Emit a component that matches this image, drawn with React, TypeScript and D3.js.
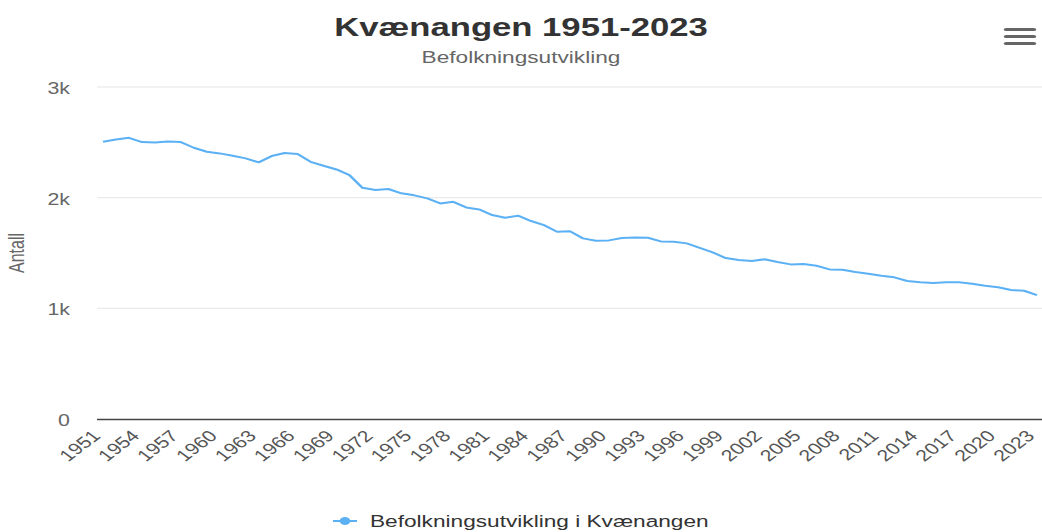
import React from "react";
import * as d3 from "d3";

const years: number[] = [
  1951, 1952, 1953, 1954, 1955, 1956, 1957, 1958, 1959, 1960,
  1961, 1962, 1963, 1964, 1965, 1966, 1967, 1968, 1969, 1970,
  1971, 1972, 1973, 1974, 1975, 1976, 1977, 1978, 1979, 1980,
  1981, 1982, 1983, 1984, 1985, 1986, 1987, 1988, 1989, 1990,
  1991, 1992, 1993, 1994, 1995, 1996, 1997, 1998, 1999, 2000,
  2001, 2002, 2003, 2004, 2005, 2006, 2007, 2008, 2009, 2010,
  2011, 2012, 2013, 2014, 2015, 2016, 2017, 2018, 2019, 2020,
  2021, 2022, 2023,
];

const population: number[] = [
  2505, 2526, 2541, 2502, 2499, 2508, 2502, 2451, 2415, 2400,
  2379, 2355, 2319, 2376, 2403, 2394, 2324, 2288, 2255, 2204,
  2089, 2069, 2078, 2039, 2021, 1994, 1948, 1963, 1912, 1894,
  1843, 1818, 1837, 1789, 1752, 1692, 1696, 1632, 1611, 1614,
  1635, 1641, 1638, 1605, 1602, 1587, 1547, 1506, 1454, 1436,
  1427, 1443, 1418, 1397, 1401, 1385, 1352, 1349, 1328, 1313,
  1295, 1280, 1247, 1235, 1229, 1235, 1235, 1222, 1204, 1190,
  1165, 1159, 1120,
];

const xTickYears: number[] = [
  1951, 1954, 1957, 1960, 1963, 1966, 1969, 1972, 1975, 1978, 1981, 1984, 1987,
  1990, 1993, 1996, 1999, 2002, 2005, 2008, 2011, 2014, 2017, 2020, 2023,
];
const yTicks: number[] = [0, 1000, 2000, 3000];
const yTickLabels: string[] = ["0", "1k", "2k", "3k"];

const title = "Kvænangen 1951-2023";
const subtitle = "Befolkningsutvikling";
const yTitle = "Antall";
const seriesName = "Befolkningsutvikling i Kvænangen";

const W = 1042;
const H = 532;
const S = 4 / 3; // horizontal stretch of the picture
const VW = W / S;
const FONT = "'Liberation Sans', Arial, Helvetica, sans-serif";
const COLOR = "#5cb1f5";

export default function App() {
  const x = d3.scaleLinear().domain([1951, 2023]).range([103 / S, 1037 / S]);
  const y = d3.scaleLinear().domain([0, 3000]).range([419, 87]);
  const plotLeft = 97 / S;
  const plotRight = VW;

  const line = d3
    .line<number>()
    .x((_, i) => x(years[i]))
    .y((d) => y(d));

  return (
    <div style={{ position: "absolute", left: 0, top: 0, width: W, height: H }}>
      <svg
        width={W}
        height={H}
        viewBox={`0 0 ${VW} ${H}`}
        preserveAspectRatio="none"
        style={{ display: "block", fontFamily: FONT }}
      >
        <rect x={0} y={0} width={VW} height={H} fill="#ffffff" />
        <text x={VW / 2} y={36} textAnchor="middle" fontSize={26} fontWeight="bold" fill="#333333">
          {title}
        </text>
        <text x={VW / 2} y={63} textAnchor="middle" fontSize={17} fill="#666666">
          {subtitle}
        </text>
        {/* menu */}
        <g stroke="#666666" strokeWidth={3.2} strokeLinecap="round">
          {[29.5, 36.5, 43.5].map((yy) => (
            <line key={yy} x1={1006 / S} x2={1034 / S} y1={yy} y2={yy} />
          ))}
        </g>
        {/* grid */}
        {yTicks.slice(1).map((t) => (
          <line key={t} x1={plotLeft} x2={plotRight} y1={y(t)} y2={y(t)} stroke="#e6e6e6" strokeWidth={1} />
        ))}
        <line x1={plotLeft} x2={plotRight} y1={y(0) + 0.5} y2={y(0) + 0.5} stroke="#444444" strokeWidth={1.3} />
        {yTicks.map((t, i) => (
          <text key={t} x={70 / S} y={y(t) + 7} textAnchor="end" fontSize={16} fill="#666666">
            {yTickLabels[i]}
          </text>
        ))}
        <text
          transform={`translate(${24 / S}, 253) rotate(-90)`}
          textAnchor="middle"
          fontSize={16}
          fill="#666666"
        >
          {yTitle}
        </text>
        {xTickYears.map((yr) => (
          <text
            key={yr}
            transform={`translate(${x(yr) - 1}, 437) rotate(-45)`}
            textAnchor="end"
            fontSize={16}
            fill="#555555"
          >
            {yr}
          </text>
        ))}
        <path d={line(population) || ""} fill="none" stroke={COLOR} strokeWidth={2} strokeLinejoin="round" />
        {/* legend */}
        <line x1={333 / S} x2={357 / S} y1={521} y2={521} stroke={COLOR} strokeWidth={2} />
        <circle cx={345 / S} cy={521} r={4} fill={COLOR} />
        <text x={370 / S} y={527} fontSize={17} fill="#333333">
          {seriesName}
        </text>
      </svg>
    </div>
  );
}
